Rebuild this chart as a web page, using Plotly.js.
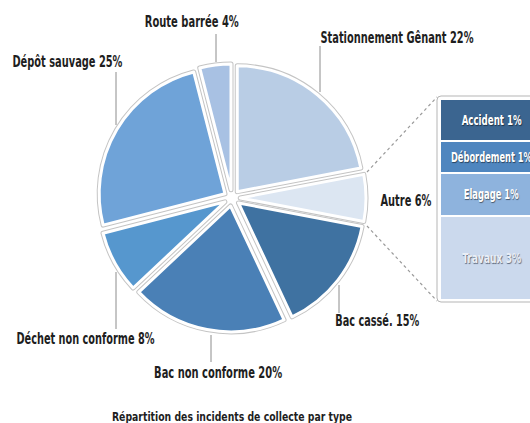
<!DOCTYPE html>
<html>
<head>
<meta charset="utf-8">
<script src="https://cdn.plot.ly/plotly-3.0.1.min.js"></script>
<style>html,body{margin:0;padding:0;background:#fff;}#chart{width:530px;height:423px;}</style>
</head>
<body>
<div id="chart"></div>
<script>
// Pie data (clockwise from 12 o'clock)
var pieLabels = ["Stationnement Gênant", "Autre", "Bac cassé.", "Bac non conforme", "Déchet non conforme", "Dépôt sauvage", "Route barrée"];
var pieValues = [22, 6, 15, 20, 8, 25, 4];
var pieColors = ["#b9cde5", "#dce6f2", "#3f72a1", "#4a80b6", "#5697ce", "#6fa3d8", "#a8c1e3"];

// Breakdown of "Autre" (top to bottom in the bar)
var barLabels = ["Accident", "Débordement", "Elagage", "Travaux"];
var barShown = ["1%", "1%", "1%", "3%"];
var barHeights = [1.25, 0.95, 1.3, 2.5];
var barColors = ["#3b6590", "#4f86bf", "#8eb3dd", "#cbd9ed"];

var FONT = "DejaVu Sans Condensed, Liberation Sans Narrow, sans-serif";

var pieDomain = {x: [0.185, 0.6906], y: [0.215, 0.849]};
var pulls = pieValues.map(function(){ return 0.065; });

var traces = [];
traces.push({
  type: "pie", labels: pieLabels, values: pieValues, sort: false, direction: "clockwise", rotation: 0,
  domain: pieDomain, pull: pulls, textinfo: "none", hoverinfo: "skip", showlegend: false,
  marker: {colors: pieColors, line: {color: "#c4c4c4", width: 5}}
});
traces.push({
  type: "pie", labels: pieLabels, values: pieValues, sort: false, direction: "clockwise", rotation: 0,
  domain: pieDomain, pull: pulls, textinfo: "none", hoverinfo: "label+percent", showlegend: false,
  marker: {colors: pieColors, line: {color: "#ffffff", width: 3}}
});

// narrow widths (px) for the condensed look of each text
var textWidths = {
  "Accident 1%": 60, "Débordement 1%": 81, "Elagage 1%": 55, "Travaux 3%": 59,
  "Route barrée 4%": 94, "Dépôt sauvage 25%": 110, "Stationnement Gênant 22%": 153, "Autre 6%": 51,
  "Bac cassé. 15%": 84, "Déchet non conforme 8%": 138, "Bac non conforme 20%": 128,
  "Répartition des incidents de collecte par type": 240
};

var annots = [];
var base = 0;
for (var i = barLabels.length - 1; i >= 0; i--) {
  traces.push({
    type: "bar", x: [0], y: [barHeights[i]], name: barLabels[i],
    xaxis: "x", yaxis: "y", width: 1,
    marker: {color: barColors[i], line: {color: "#ffffff", width: 2}},
    textposition: "none", hoverinfo: "name", showlegend: false
  });
  annots.push({
    text: barLabels[i] + " " + barShown[i], x: 0, y: base + barHeights[i] / 2, xref: "x", yref: "y",
    showarrow: false, xanchor: "center", yanchor: "middle",
    font: {family: FONT, size: 14, weight: "bold", color: i === 3 ? "#e9eef6" : "#ffffff",
           shadow: i === 3 ? "1px 1px 1px rgba(60,70,90,0.75)" : "1px 1px 1px rgba(0,0,0,0.5)"}
  });
  base += barHeights[i];
}

function px(x){ return x/530; }
function py(y){ return 1 - y/423; }

function lab(text, xc, yc, size) {
  annots.push({text: text, x: px(xc), y: py(yc), xref: "paper", yref: "paper", showarrow: false,
    xanchor: "center", yanchor: "middle", font: {family: FONT, size: size || 15, weight: "bold", color: "#1e1e1e"}});
}
lab("Route barrée 4%", 192, 22);
lab("Dépôt sauvage 25%", 67, 62);
lab("Stationnement Gênant 22%", 397, 38);
lab("Autre 6%", 406, 201);
lab("Bac cassé. 15%", 377, 321);
lab("Déchet non conforme 8%", 85, 339);
lab("Bac non conforme 20%", 218, 373);
lab("Répartition des incidents de collecte par type", 232, 416, 13);

var shapes = [];
function vline(x, y0, y1) {
  shapes.push({type: "line", xref: "paper", yref: "paper", x0: px(x), x1: px(x), y0: py(y0), y1: py(y1),
    line: {color: "#8c8c8c", width: 1}});
}
vline(216, 34, 62);
vline(116, 72, 125);
vline(320, 46, 92);
vline(339, 285, 313);
vline(116, 272, 329);
vline(211, 335, 362);
shapes.push({type: "line", xref: "paper", yref: "paper", x0: px(367), y0: py(172), x1: px(437), y1: py(97),
  line: {color: "#9a9a9a", width: 1.2, dash: "dot"}});
shapes.push({type: "line", xref: "paper", yref: "paper", x0: px(367), y0: py(226), x1: px(437), y1: py(301),
  line: {color: "#9a9a9a", width: 1.2, dash: "dot"}});
shapes.push({type: "path", xref: "paper", yref: "paper",
  path: "M " + px(545) + "," + py(96) + " L " + px(441) + "," + py(96) +
        " Q " + px(437) + "," + py(96) + " " + px(437) + "," + py(100) +
        " L " + px(437) + "," + py(298) +
        " Q " + px(437) + "," + py(302) + " " + px(441) + "," + py(302) +
        " L " + px(545) + "," + py(302),
  line: {color: "#b5b5b5", width: 1}, layer: "below"});

var layout = {
  width: 530, height: 423,
  margin: {l: 0, r: 0, t: 0, b: 0},
  paper_bgcolor: "#ffffff", plot_bgcolor: "rgba(0,0,0,0)",
  barmode: "stack", bargap: 0,
  showlegend: false,
  xaxis: {domain: [px(440), 1], range: [-0.5, 0.37], visible: false, fixedrange: true},
  yaxis: {domain: [py(300), py(99)], range: [0, 6], visible: false, fixedrange: true},
  annotations: annots,
  shapes: shapes,
  font: {family: FONT}
};

Plotly.newPlot("chart", traces, layout, {displayModeBar: false, staticPlot: true}).then(function(gd){
  var nodes = gd.querySelectorAll("text.annotation-text");
  nodes.forEach(function(t){
    var w = textWidths[t.textContent];
    if (w) {
      t.setAttribute("textLength", w);
      t.setAttribute("lengthAdjust", "spacingAndGlyphs");
    }
  });
});
</script>
</body>
</html>
